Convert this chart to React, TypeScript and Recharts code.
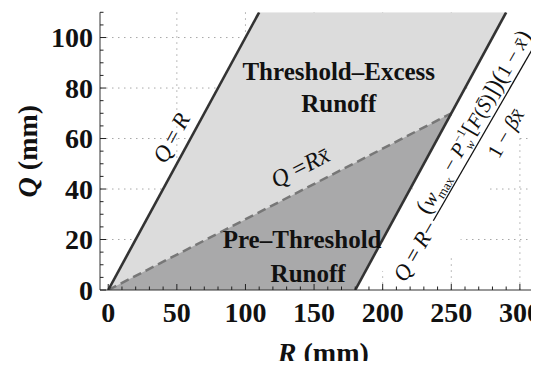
import React from 'react';
import { ComposedChart, Area, Line, XAxis, YAxis, CartesianGrid, ReferenceDot } from 'recharts';

const FONT = '"Liberation Serif", "Times New Roman", serif';

// axes
const X_DOMAIN: [number, number] = [-6, 318];
const Y_DOMAIN: [number, number] = [0, 110];
const xTicks = [0, 10, 20, 30, 40, 50, 60, 70, 80, 90, 100, 110, 120, 130, 140, 150, 160, 170, 180, 190, 200, 210, 220, 230, 240, 250, 260, 270, 280, 290, 300, 310];
const yTicks = [0, 5, 10, 15, 20, 25, 30, 35, 40, 45, 50, 55, 60, 65, 70, 75, 80, 85, 90, 95, 100, 105, 110];
const xGrid = [50, 100, 150, 200, 250, 300];
const yGrid = [20, 40, 60, 80, 100];

// light region (between Q=R and the upper limit line)
const lightR = [0, 110, 180, 290];
const lightLow = [0, 0, 0, 110];
const lightHigh = [0, 110, 110, 110];
// dark region (pre-threshold runoff)
const darkR = [0, 180, 250];
const darkLow = [0, 0, 70];
const darkHigh = [0, 50.4, 70];
// lines
const qrR = [0, 110];
const qrQ = [0, 110];
const limR = [180, 290];
const limQ = [0, 110];
const qxR = [0, 250];
const qxQ = [0, 70];

const lightData = lightR.map((r, i) => ({ R: r, range: [lightLow[i], lightHigh[i]] }));
const darkData = darkR.map((r, i) => ({ R: r, range: [darkLow[i], darkHigh[i]] }));
const qrData = qrR.map((r, i) => ({ R: r, Q: qrQ[i] }));
const limData = limR.map((r, i) => ({ R: r, Q: limQ[i] }));
const qxData = qxR.map((r, i) => ({ R: r, Q: qxQ[i] }));

const XTick = (p: any) => {
  const v = p.payload.value;
  const major = v % 50 === 0;
  return (
    <g>
      <line x1={p.x} x2={p.x} y1={p.y} y2={p.y - (major ? 6 : 3.5)} stroke="#222" strokeWidth={1} />
      {major && (
        <text x={p.x} y={p.y + 32} textAnchor="middle" fontFamily={FONT} fontWeight="bold" fontSize={28} fill="#111">
          {v}
        </text>
      )}
    </g>
  );
};

const YTick = (p: any) => {
  const v = p.payload.value;
  const major = v % 20 === 0;
  return (
    <g>
      <line x1={p.x} x2={p.x + (major ? 6 : 3.5)} y1={p.y} y2={p.y} stroke="#222" strokeWidth={1} />
      {major && (
        <text x={p.x - 7} y={p.y + 9.5} textAnchor="end" fontFamily={FONT} fontWeight="bold" fontSize={28} fill="#111">
          {v}
        </text>
      )}
    </g>
  );
};

const TopTick = (p: any) => (
  <line x1={p.x} x2={p.x} y1={p.y} y2={p.y + 3.5} stroke="#f2f2f2" strokeWidth={1} />
);

const XLabel = (props: any) => {
  const vb = props.viewBox;
  return (
    <text x={vb.x + vb.width / 2 + 1} y={vb.y + 72} textAnchor="middle" fontFamily={FONT} fontWeight="bold" fontSize={28} fill="#111">
      <tspan fontStyle="italic">R</tspan> (mm)
    </text>
  );
};

const YLabel = (props: any) => {
  const vb = props.viewBox;
  const cy = vb.y + vb.height / 2;
  return (
    <text x={37} y={cy} transform={`rotate(-90 37 ${cy})`} textAnchor="middle" fontFamily={FONT} fontWeight="bold" fontSize={28} fill="#111">
      <tspan fontStyle="italic">Q</tspan> (mm)
    </text>
  );
};

const ExcessLabel = (p: any) => (
  <g fontFamily={FONT} fontWeight="bold" fontSize={25} fill="#111">
    <text x={p.cx} y={p.cy} textAnchor="middle">Threshold{'\u2013'}Excess</text>
    <text x={p.cx} y={p.cy + 32} textAnchor="middle">Runoff</text>
  </g>
);

const PreLabel = (p: any) => (
  <g fontFamily={FONT} fontWeight="bold" fontSize={25} fill="#111">
    <text x={p.cx} y={p.cy} textAnchor="middle">Pre{'\u2013'}Threshold</text>
    <text x={p.cx + 6} y={p.cy + 34} textAnchor="middle">Runoff</text>
  </g>
);

const QRLabel = (p: any) => (
  <text x={p.cx} y={p.cy} transform={`rotate(-61.5 ${p.cx} ${p.cy})`} textAnchor="middle" fontFamily={FONT} fontSize={23} fill="#111">
    <tspan fontStyle="italic">Q</tspan>{'\u2009=\u2009'}<tspan fontStyle="italic">R</tspan>
  </text>
);

const QRxLabel = (p: any) => (
  <text x={p.cx} y={p.cy} transform={`rotate(-27.2 ${p.cx} ${p.cy})`} textAnchor="middle" fontFamily={FONT} fontSize={24} fill="#111">
    <tspan fontStyle="italic">Q</tspan>{' ='}<tspan fontStyle="italic">R</tspan><tspan fontStyle="italic">{'x\u0304'}</tspan>
  </text>
);

const Formula = (p: any) => (
  <g transform={`translate(${p.cx} ${p.cy}) rotate(-60)`} fontFamily={FONT} fill="#111">
    <polygon points="30,1.5 400,-8 400,66 30,66" fill="#ffffff" />
    <text x={31} y={40} fontSize={22.5}>
      <tspan fontStyle="italic">Q</tspan>{' =\u2009'}<tspan fontStyle="italic">R</tspan>{'\u2212'}
    </text>
    <line x1={99} x2={323} y1={33} y2={33} stroke="#111" strokeWidth={1.3} />
    <text x={101} y={26} fontSize={20.3}>
      <tspan fontSize={24}>(</tspan>
      <tspan fontStyle="italic">w</tspan>
      <tspan fontSize={13} dy={5}>max</tspan>
      <tspan dy={-5}>{' \u2212 '}</tspan>
      <tspan fontStyle="italic">P</tspan>
      <tspan fontSize={12.5} dy={-9}>{'\u22121'}</tspan>
      <tspan fontSize={12.5} fontStyle="italic" dx={-13.3} dy={14}>w</tspan>
      <tspan fontSize={23} dx={5} dy={-5}>[</tspan>
      <tspan fontStyle="italic">F</tspan>
      <tspan>(</tspan>
      <tspan fontStyle="italic">{'S\u0304'}</tspan>
      <tspan>)</tspan>
      <tspan fontSize={23}>]</tspan>
      <tspan fontSize={24}>)(</tspan>
      <tspan>{'1 \u2212 '}</tspan>
      <tspan fontStyle="italic">{'x\u0304'}</tspan>
      <tspan fontSize={24}>)</tspan>
    </text>
    <text x={211} y={59} fontSize={21} textAnchor="middle">
      {'1 \u2212 '}<tspan fontStyle="italic">{'\u03b2x\u0304'}</tspan>
    </text>
  </g>
);

export default function App() {
  return (
    <div style={{ margin: -8, width: 539, height: 369, overflow: 'hidden', background: '#fff' }}>
      <ComposedChart width={560} height={369} margin={{ top: 12.3, right: 15.4, bottom: 0, left: 0 }}>
        <CartesianGrid
          verticalValues={xGrid}
          horizontalValues={yGrid}
          stroke="#a8a8a8"
          strokeDasharray="1.5 4.5"
        />
        <Area data={lightData} dataKey="range" type="linear" stroke="none" fill="#dcdcdc" fillOpacity={1} isAnimationActive={false} dot={false} activeDot={false} />
        <Area data={darkData} dataKey="range" type="linear" stroke="none" fill="#a9a9aa" fillOpacity={1} isAnimationActive={false} dot={false} activeDot={false} />
        <ReferenceDot x={180} y={0} r={0} ifOverflow="hidden" zIndex={300} shape={(p: any) => <Formula cx={p.cx} cy={p.cy} />} />
        <Line data={qxData} dataKey="Q" type="linear" stroke="#777777" strokeWidth={2.5} strokeDasharray="9 5" dot={false} activeDot={false} isAnimationActive={false} />
        <Line data={qrData} dataKey="Q" type="linear" stroke="#333333" strokeWidth={2.6} dot={false} activeDot={false} isAnimationActive={false} />
        <Line data={limData} dataKey="Q" type="linear" stroke="#333333" strokeWidth={2.6} dot={false} activeDot={false} isAnimationActive={false} />
        <ReferenceDot x={168} y={83} r={0} shape={(p: any) => <ExcessLabel cx={p.cx} cy={p.cy} />} />
        <ReferenceDot x={141.3} y={16.5} r={0} shape={(p: any) => <PreLabel cx={p.cx} cy={p.cy} />} />
        <ReferenceDot x={50.9} y={58.8} r={0} shape={(p: any) => <QRLabel cx={p.cx} cy={p.cy} />} />
        <ReferenceDot x={142.5} y={45.8} r={0} shape={(p: any) => <QRxLabel cx={p.cx} cy={p.cy} />} />
        <XAxis
          dataKey="R"
          type="number"
          domain={X_DOMAIN}
          allowDataOverflow
          ticks={xTicks}
          interval={0}
          tickSize={0}
          tickMargin={0}
          tickLine={false}
          tick={XTick}
          height={79}
          axisLine={{ stroke: '#333', strokeWidth: 1 }}
          label={{ content: XLabel }}
        />
        <XAxis
          xAxisId="top"
          orientation="top"
          type="number"
          domain={X_DOMAIN}
          allowDataOverflow
          ticks={xTicks}
          interval={0}
          tickSize={0}
          tickMargin={0}
          tickLine={false}
          tick={TopTick}
          height={0}
          axisLine={{ stroke: '#f0f0f0', strokeWidth: 1 }}
        />
        <YAxis
          type="number"
          domain={Y_DOMAIN}
          allowDataOverflow
          ticks={yTicks}
          interval={0}
          tickSize={0}
          tickMargin={0}
          tickLine={false}
          tick={YTick}
          width={100}
          axisLine={{ stroke: '#333', strokeWidth: 1 }}
          label={{ content: YLabel }}
        />
      </ComposedChart>
    </div>
  );
}
